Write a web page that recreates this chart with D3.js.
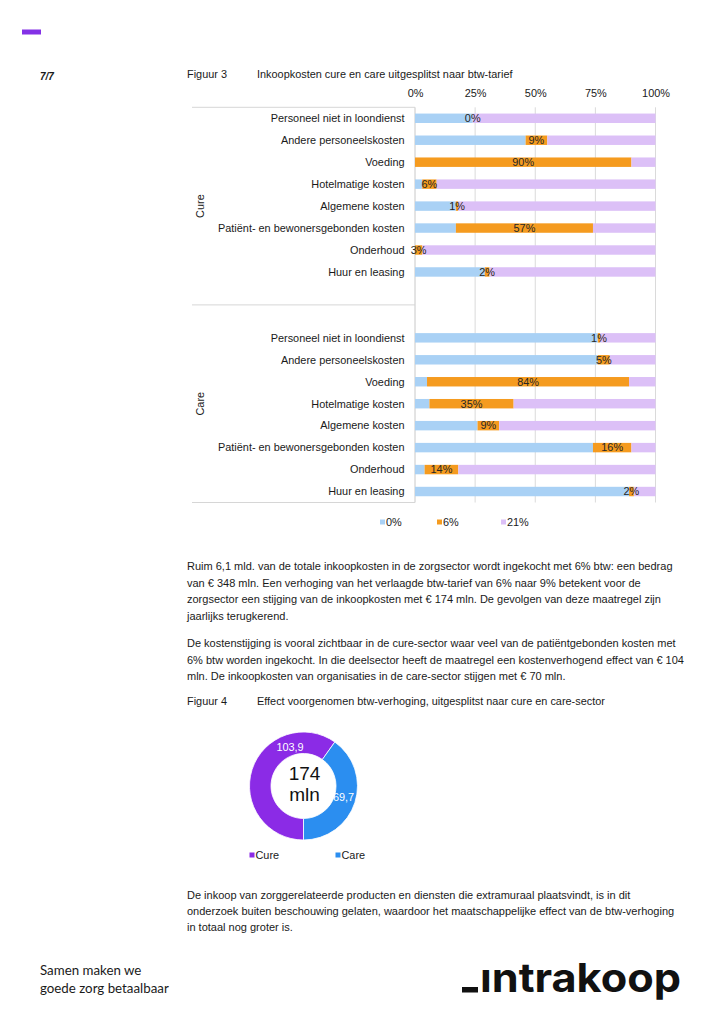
<!DOCTYPE html>
<html><head><meta charset="utf-8">
<script src="https://cdn.jsdelivr.net/npm/d3@7"></script>
<style>
html,body{margin:0;padding:0;background:#fff;}
svg{display:block;font-family:"Liberation Sans",Arial,sans-serif;}
</style></head>
<body>
<svg id="page" width="724" height="1024"></svg>
<script>
// ---------- DATA ----------
const groups = ["Cure", "Care"];
const categories = ["Personeel niet in loondienst","Andere personeelskosten","Voeding","Hotelmatige kosten","Algemene kosten","Patiënt- en bewonersgebonden kosten","Onderhoud","Huur en leasing"];
const seriesNames = ["0%","6%","21%"];
const cure0  = [24, 46, 0, 3, 17, 17, 0, 29];
const cure6  = [0, 9, 90, 6, 1, 57, 3, 2];
const cure21 = [76, 45, 10, 91, 82, 26, 97, 69];
const care0  = [76, 76, 5, 6, 26, 74, 4, 89];
const care6  = [1, 5, 84, 35, 9, 16, 14, 2];
const care21 = [23, 19, 11, 59, 65, 10, 82, 9];
const xTicks = [0, 25, 50, 75, 100];
const xTickLabels = ["0%","25%","50%","75%","100%"];
const donutLabels = ["Cure","Care"];
const donutValues = [103.9, 69.7];
const donutTotal = "174";
const donutUnit = "mln";

const seriesColors = ["#a9d1f5","#f59b1f","#dcc0f7"];
const donutColors = ["#8b2be6","#2b8ef0"];

const svg = d3.select("#page");
const txt = "#1a1a1a";

// header
svg.append("rect").attr("x",22).attr("y",29.5).attr("width",19).attr("height",5).attr("fill","#8331e6");
svg.append("text").attr("x",40).attr("y",80).attr("font-size",10).attr("font-weight","bold").attr("font-style","italic").attr("fill",txt).text("7/7");

// Figure 3 title
svg.append("text").attr("x",187).attr("y",77.5).attr("font-size",10.9).attr("fill",txt).text("Figuur 3");
svg.append("text").attr("x",257).attr("y",77.5).attr("font-size",10.9).attr("fill",txt).text("Inkoopkosten cure en care uitgesplitst naar btw-tarief");

// ---------- BAR CHART ----------
const rows = [];
const data = {Cure:[cure0,cure6,cure21], Care:[care0,care6,care21]};
categories.forEach((c,i)=>rows.push({key:"Cure|"+c, group:"Cure", cat:c, v:data.Cure.map(a=>a[i])}));
categories.forEach((c,i)=>rows.push({key:"Care|"+c, group:"Care", cat:c, v:data.Care.map(a=>a[i])}));
const domain = categories.map(c=>"Cure|"+c).concat(["Cure|_blank","Care|_blank"]).concat(categories.map(c=>"Care|"+c));

const plotTop = 107.3, plotBottom = 502.5;
const x = d3.scaleLinear().domain([0,100]).range([415,655.5]);
const y = d3.scaleBand().domain(domain).range([plotTop,plotBottom]).paddingInner(0.57).paddingOuter(0.285);

// gridlines
const grid = svg.append("g");
grid.selectAll("line").data(xTicks).join("line")
  .attr("x1",d=>x(d)).attr("x2",d=>x(d)).attr("y1",plotTop).attr("y2",plotBottom)
  .attr("stroke",d=>d===0?"#c8c8c8":"#dadada").attr("stroke-width",1);

// top axis labels
const xAxis = d3.axisTop(x).tickValues(xTicks).tickFormat((d,i)=>xTickLabels[i]).tickSize(0).tickPadding(0);
const gx = svg.append("g").attr("transform","translate(0,97)").call(xAxis);
gx.select(".domain").remove();
gx.selectAll("text").attr("font-size",10.9).attr("fill",txt).attr("font-family","Liberation Sans, Arial, sans-serif").attr("dy",0);

// group separator lines
const sepY = [plotTop, (y("Cure|_blank")+y("Care|_blank")+y.bandwidth())/2, plotBottom];
svg.append("g").selectAll("line").data(sepY).join("line")
  .attr("x1",192).attr("x2",415).attr("y1",d=>d).attr("y2",d=>d)
  .attr("stroke","#d6d6d6").attr("stroke-width",1);

// bars
const stackG = svg.append("g");
rows.forEach(r=>{
  let acc = 0;
  r.v.forEach((val,si)=>{
    stackG.append("rect")
      .attr("x",x(acc)).attr("width",x(acc+val)-x(acc))
      .attr("y",y(r.key)).attr("height",y.bandwidth())
      .attr("fill",seriesColors[si]);
    acc += val;
  });
});
// 6% data labels
const lab = svg.append("g");
rows.forEach(r=>{
  const s = r.v[0], v = r.v[1];
  lab.append("text").attr("x",x(s+v/2)).attr("y",y(r.key)+y.bandwidth()/2+3.8)
    .attr("text-anchor","middle").attr("font-size",10.9).attr("fill","#262626").text(v+"%");
});

// category labels
svg.append("g").selectAll("text").data(rows).join("text")
  .attr("x",404.5).attr("y",d=>y(d.key)+y.bandwidth()/2+3.8)
  .attr("text-anchor","end").attr("font-size",10.9).attr("fill",txt).text(d=>d.cat);

// group labels
groups.forEach(g=>{
  const keys = domain.filter(k=>k.startsWith(g+"|"));
  const cyy = (y(keys[0]) + y(keys[keys.length-1]) + y.bandwidth())/2;
  svg.append("text").attr("transform",`translate(204,${cyy}) rotate(-90)`)
    .attr("text-anchor","middle").attr("font-size",10.9).attr("fill",txt).text(g);
});

// legend
const legX = [380, 437, 501];
seriesNames.forEach((s,i)=>{
  svg.append("rect").attr("x",legX[i]).attr("y",519.5).attr("width",5).attr("height",5).attr("fill",seriesColors[i]);
  svg.append("text").attr("x",legX[i]+6).attr("y",526).attr("font-size",10.9).attr("fill",txt).text(s);
});

// ---------- BODY TEXT ----------
function para(lines, x0, y0, lh, fs){
  lines.forEach((l,i)=>svg.append("text").attr("x",x0).attr("y",y0+i*lh).attr("font-size",fs).attr("fill",txt).text(l));
}
para(["Ruim 6,1 mld. van de totale inkoopkosten in de zorgsector wordt ingekocht met 6% btw: een bedrag",
      "van € 348 mln. Een verhoging van het verlaagde btw-tarief van 6% naar 9% betekent voor de",
      "zorgsector een stijging van de inkoopkosten met € 174 mln. De gevolgen van deze maatregel zijn",
      "jaarlijks terugkerend."], 187, 570, 16.5, 11);
para(["De kostenstijging is vooral zichtbaar in de cure-sector waar veel van de patiëntgebonden kosten met",
      "6% btw worden ingekocht. In die deelsector heeft de maatregel een kostenverhogend effect van € 104",
      "mln. De inkoopkosten van organisaties in de care-sector stijgen met € 70 mln."], 187, 647, 16.5, 11);
svg.append("text").attr("x",187).attr("y",705).attr("font-size",10.9).attr("fill",txt).text("Figuur 4");
svg.append("text").attr("x",257).attr("y",705).attr("font-size",10.9).attr("fill",txt).text("Effect voorgenomen btw-verhoging, uitgesplitst naar cure en care-sector");

// ---------- DONUT ----------
const dcx = 303.5, dcy = 786;
const pie = d3.pie().sort(null).startAngle(Math.PI).endAngle(3*Math.PI);
const arcs = pie(donutValues);
const arc = d3.arc().innerRadius(32.5).outerRadius(54);
const dg = svg.append("g").attr("transform",`translate(${dcx},${dcy})`);
dg.selectAll("path").data(arcs).join("path").attr("d",arc).attr("fill",(d,i)=>donutColors[i]).attr("stroke","#fff").attr("stroke-width",0.8);
const lpos = [[-13.5,-38.5],[40,11.5]];
arcs.forEach((a,i)=>{
  dg.append("text").attr("x",lpos[i][0]).attr("y",lpos[i][1]+3.8).attr("text-anchor","middle")
    .attr("font-size",10.9).attr("fill","#fff").text(String(donutValues[i]).replace(".",","));
});
dg.append("text").attr("x",1).attr("y",-6).attr("text-anchor","middle").attr("font-size",19).attr("fill","#111").text(donutTotal);
dg.append("text").attr("x",1).attr("y",14.5).attr("text-anchor","middle").attr("font-size",19).attr("fill","#111").text(donutUnit);
const dLegX = [249.5, 335.5];
donutLabels.forEach((s,i)=>{
  svg.append("rect").attr("x",dLegX[i]).attr("y",852.5).attr("width",5).attr("height",5).attr("fill",donutColors[i]);
  svg.append("text").attr("x",dLegX[i]+6).attr("y",859).attr("font-size",10.9).attr("fill",txt).text(s);
});

// ---------- FINAL PARAGRAPH ----------
para(["De inkoop van zorggerelateerde producten en diensten die extramuraal plaatsvindt, is in dit",
      "onderzoek buiten beschouwing gelaten, waardoor het maatschappelijke effect van de btw-verhoging",
      "in totaal nog groter is."], 187, 899, 16.2, 11);

// ---------- FOOTER ----------
svg.append("text").attr("x",40).attr("y",975).attr("font-size",13.3).attr("font-family","Lato, sans-serif").attr("fill",txt).text("Samen maken we");
svg.append("text").attr("x",40).attr("y",993).attr("font-size",13.3).attr("font-family","Lato, sans-serif").attr("fill",txt).text("goede zorg betaalbaar");
svg.append("rect").attr("x",462).attr("y",987).attr("width",16).attr("height",5.5).attr("fill","#111");
svg.append("text").attr("x",480).attr("y",992).attr("font-size",40).attr("font-weight","bold").attr("font-family","Inter, sans-serif").attr("fill","#111")
  .attr("textLength",201).attr("lengthAdjust","spacingAndGlyphs").text("ıntrakoop");
</script>
</body></html>
